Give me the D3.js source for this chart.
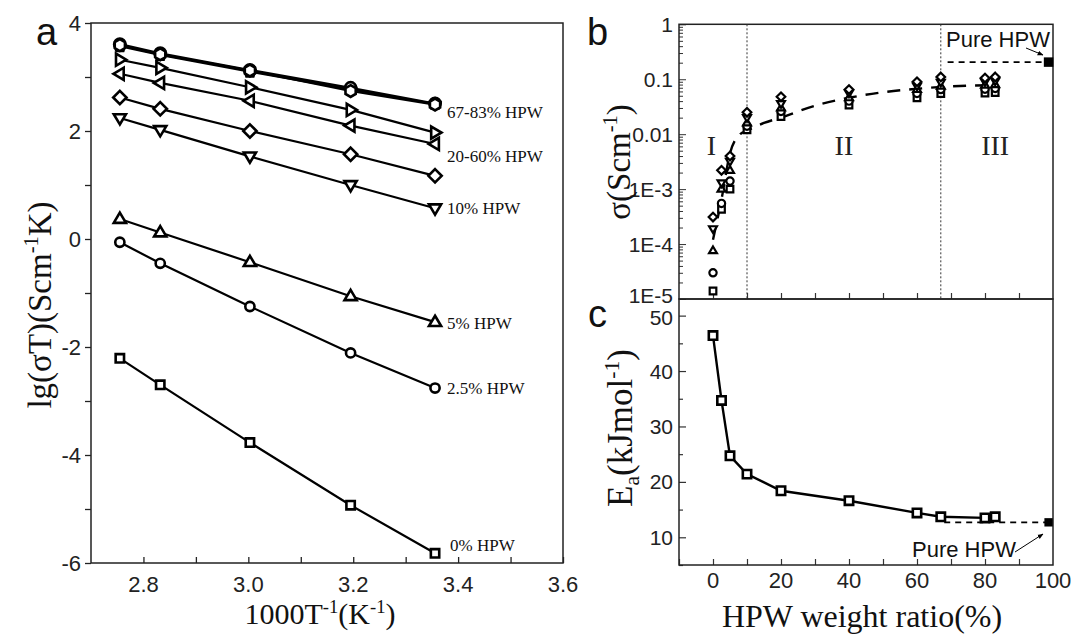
<!DOCTYPE html>
<html><head><meta charset="utf-8">
<script src="https://cdn.jsdelivr.net/npm/d3@7"></script>
<style>body{margin:0;background:#fff}svg{display:block}</style>
</head><body>
<svg id="c" width="1074" height="643"></svg>
<script>
// ---------- DATA ----------
// Panel a: 1000/T values and lg(sigma*T) per sample
const invT = [2.755, 2.832, 3.003, 3.195, 3.356];
const aNames   = ["0%", "2.5%", "5%", "10%", "20%", "40%", "60%", "67%", "80%", "83%"];
const aSymbols = ["square", "circle", "triUp", "triDown", "diamond", "triLeft", "triRight", "pentagon", "circle", "hexagon"];
const lg0   = [-2.21, -2.70, -3.77, -4.93, -5.82];
const lg2_5 = [-0.06, -0.45, -1.25, -2.11, -2.76];
const lg5   = [0.37, 0.12, -0.43, -1.06, -1.54];
const lg10  = [2.24, 2.02, 1.53, 1.00, 0.57];
const lg20  = [2.62, 2.41, 2.00, 1.57, 1.17];
const lg40  = [3.06, 2.89, 2.56, 2.10, 1.76];
const lg60  = [3.32, 3.17, 2.81, 2.39, 1.97];
const lg67  = [3.57, 3.41, 3.10, 2.77, 2.50];
const lg80  = [3.61, 3.44, 3.13, 2.80, 2.51];
const lg83  = [3.59, 3.42, 3.12, 2.74, 2.49];
const aLabels = ["67-83% HPW", "20-60% HPW", "10% HPW", "5% HPW", "2.5% HPW", "0% HPW"];
const aXTicks = [2.8, 3.0, 3.2, 3.4, 3.6];
const aYTicks = [-6, -4, -2, 0, 2, 4];

// Panel b: conductivity vs HPW weight ratio at five temperatures
const hpw = [0, 2.5, 5, 10, 20, 40, 60, 67, 80, 83];
const sig25 = [1.4e-5, 4.3e-4, 1.0e-3, 1.2e-2, 2.1e-2, 3.4e-2, 4.6e-2, 5.5e-2, 5.6e-2, 5.7e-2];
const sig40 = [3.0e-5, 5.5e-4, 1.4e-3, 1.4e-2, 2.6e-2, 4.0e-2, 5.5e-2, 6.5e-2, 6.6e-2, 6.8e-2];
const sig60 = [7.6e-5, 1.0e-3, 2.2e-3, 1.6e-2, 3.0e-2, 4.6e-2, 6.5e-2, 7.5e-2, 7.8e-2, 8.0e-2];
const sig80 = [1.9e-4, 1.3e-3, 3.2e-3, 2.0e-2, 3.6e-2, 5.6e-2, 7.5e-2, 8.8e-2, 9.0e-2, 9.3e-2];
const sig90 = [3.1e-4, 2.2e-3, 4.0e-3, 2.5e-2, 4.8e-2, 6.5e-2, 9.0e-2, 1.1e-1, 1.05e-1, 1.1e-1];
const bSymbols = ["square", "circle", "triUp", "triDown", "diamond"];
const fitX = [0, 2.5, 5, 8, 10, 15, 20, 30, 40, 50, 60, 70, 83];
const fitY = [1.2e-4, 6.5e-4, 4.5e-3, 1.0e-2, 1.15e-2, 1.6e-2, 2.0e-2, 3.3e-2, 4.6e-2, 5.8e-2, 6.7e-2, 7.4e-2, 7.8e-2];
const pureX = 98.7, pureSigma = 0.205, pureEa = 12.7;
const pureLineStart = 69;
const regionBounds = [10, 67];
const regionNames = ["I", "II", "III"];
const regionCenters = [-0.5, 38.5, 83];
const bYTicks = [1, 0.1, 0.01, 1e-3, 1e-4, 1e-5];
const bYTickLabels = ["1", "0.1", "0.01", "1E-3", "1E-4", "1E-5"];

// Panel c: activation energy
const Ea = [46.4, 34.7, 24.7, 21.4, 18.4, 16.6, 14.4, 13.7, 13.5, 13.7];
const cYTicks = [10, 20, 30, 40, 50];
const cXTicks = [0, 20, 40, 60, 80, 100];

// ---------- DRAW ----------
const svg = d3.select("#c");
const SANS = "'Liberation Sans', Arial, sans-serif";
const SERIF = "'Liberation Serif', 'Times New Roman', serif";

function shapePath(type, size) {
  const r = Math.sqrt(size) / 2;
  switch (type) {
    case "square": return d3.symbol(d3.symbolSquare, size)();
    case "circle": return d3.symbol(d3.symbolCircle, size * 0.95)();
    case "diamond": {
      const s = r * 1.3;
      return `M0,${-s}L${s},0L0,${s}L${-s},0Z`;
    }
    case "pentagon": case "hexagon": {
      const n = type === "pentagon" ? 5 : 6, R = r * 1.15;
      const pts = d3.range(n).map(i => {
        const a = -Math.PI / 2 + i * 2 * Math.PI / n;
        return [R * Math.cos(a), R * Math.sin(a)];
      });
      return "M" + pts.map(p => p.join(",")).join("L") + "Z";
    }
    default: {
      const R = r * 1.25;
      const base = [[0, -R], [R * 0.95, R * 0.6], [-R * 0.95, R * 0.6]];
      const ang = {triUp: 0, triDown: 180, triLeft: -90, triRight: 90}[type] * Math.PI / 180;
      const pts = base.map(([x, y]) => [x * Math.cos(ang) - y * Math.sin(ang), x * Math.sin(ang) + y * Math.cos(ang)]);
      return "M" + pts.map(p => p.join(",")).join("L") + "Z";
    }
  }
}

function supText(sel, parts, baseSize) {
  let shift = 0;
  parts.forEach(([t, m]) => {
    const ts = sel.append("tspan").text(t);
    let target = 0;
    if (m === "sup") { ts.attr("font-size", baseSize * 0.62); target = -baseSize * 0.38; }
    else if (m === "sub") { ts.attr("font-size", baseSize * 0.62); target = baseSize * 0.2; }
    ts.attr("dy", target - shift);
    shift = target;
  });
}

// ===== Panel a =====
const A = {l: 91, r: 563, t: 23, b: 563};
const xA = d3.scaleLinear().domain([2.7, 3.6]).range([A.l, A.r]);
const yA = d3.scaleLinear().domain([-6, 4]).range([A.b, A.t]);
const gA = svg.append("g");

const bA = gA.append("g").attr("transform", `translate(0,${A.b})`)
  .call(d3.axisBottom(xA).tickValues(d3.range(2.8, 3.61, 0.1)).tickSize(-6).tickFormat(""));
bA.select(".domain").remove();
bA.selectAll("line").attr("stroke", "#222").attr("stroke-width", 1.3);
gA.selectAll(".xtA").data(aXTicks).enter().append("text")
  .attr("x", d => xA(d)).attr("y", 592).attr("text-anchor", "middle")
  .attr("font-family", SANS).attr("font-size", 22).attr("fill", "#222").text(d => d.toFixed(1));

const lA = gA.append("g").attr("transform", `translate(${A.l},0)`)
  .call(d3.axisLeft(yA).tickValues(d3.range(-6, 4.01, 1)).tickSize(6).tickFormat(""));
lA.select(".domain").remove();
lA.selectAll("line").attr("stroke", "#222").attr("stroke-width", 1.3);
gA.selectAll(".ytA").data(aYTicks).enter().append("text")
  .attr("x", 81).attr("y", d => yA(d)).attr("dy", "0.36em").attr("text-anchor", "end")
  .attr("font-family", SANS).attr("font-size", 22).attr("fill", "#222").text(d => d);

gA.append("rect").attr("x", A.l).attr("y", A.t).attr("width", A.r - A.l).attr("height", A.b - A.t)
  .attr("fill", "none").attr("stroke", "#222").attr("stroke-width", 1.5);

const aSeries = [lg0, lg2_5, lg5, lg10, lg20, lg40, lg60, lg67, lg80, lg83];
const lineA = d3.line().x((d, i) => xA(invT[i])).y(d => yA(d));
aSeries.forEach((s) => {
  gA.append("path").attr("d", lineA(s)).attr("fill", "none").attr("stroke", "#000").attr("stroke-width", 2.2);
});
aSeries.forEach((s, k) => {
  const sym = aSymbols[k];
  const size = (k === 0 || k === 1) ? 70 : 105;
  gA.selectAll(null).data(s).enter().append("path")
    .attr("transform", (d, i) => `translate(${xA(invT[i])},${yA(d)})`)
    .attr("d", shapePath(sym, size)).attr("fill", "#fff").attr("stroke", "#000")
    .attr("stroke-width", 2.6);
});
const labelY = [2.36, 1.53, 0.57, -1.55, -2.76, -5.66];
gA.selectAll(".lab").data(aLabels).enter().append("text")
  .attr("x", (d, i) => i === 5 ? 450 : 447).attr("y", (d, i) => yA(labelY[i])).attr("dy", "0.35em")
  .attr("font-family", SERIF).attr("font-size", 17).attr("fill", "#111").text(d => d);

const tA = gA.append("text").attr("x", 320).attr("y", 624).attr("text-anchor", "middle")
  .attr("font-family", SERIF).attr("font-size", 30).attr("fill", "#111");
supText(tA, [["1000T", "n"], ["-1", "sup"], ["(K", "n"], ["-1", "sup"], [")", "n"]], 30);
const tAy = gA.append("text").attr("transform", "translate(51,305) rotate(-90)").attr("text-anchor", "middle")
  .attr("font-family", SERIF).attr("font-size", 33).attr("fill", "#111");
supText(tAy, [["lg(σT)(Scm", "n"], ["-1", "sup"], ["K)", "n"]], 33);
svg.append("text").attr("x", 36).attr("y", 45).attr("font-family", SANS).attr("font-size", 38).attr("fill", "#111").text("a");

// ===== Panel b =====
const B = {l: 679, r: 1053, t: 24.3, b: 299};
const xB = d3.scaleLinear().domain([-10, 100]).range([B.l, B.r]);
const yB = d3.scaleLog().domain([1e-5, 1]).range([B.b, B.t]);
const gB = svg.append("g");

const logTicks = [];
for (let e = -5; e < 0; e++) for (let m = 1; m < 10; m++) logTicks.push(m * Math.pow(10, e));
logTicks.push(1);
const lB = gB.append("g").attr("transform", `translate(${B.l},0)`)
  .call(d3.axisLeft(yB).tickValues(logTicks).tickSize(-4).tickFormat(""));
lB.select(".domain").remove();
lB.selectAll("line").attr("stroke", "#333").attr("stroke-width", 1)
  .attr("x2", d => Math.abs(Math.log10(d) - Math.round(Math.log10(d))) < 1e-6 ? 7 : 4);
gB.selectAll(".ytB").data(bYTicks).enter().append("text")
  .attr("x", 673).attr("y", d => yB(d)).attr("dy", (d, i) => i === 5 ? "0.2em" : "0.36em").attr("text-anchor", "end")
  .attr("font-family", SANS).attr("font-size", 21).attr("fill", "#222").text((d, i) => bYTickLabels[i]);
const bBax = gB.append("g").attr("transform", `translate(0,${B.b})`)
  .call(d3.axisBottom(xB).tickValues(d3.range(0, 100, 10)).tickSize(-6).tickFormat(""));
bBax.select(".domain").remove();
bBax.selectAll("line").attr("stroke", "#333").attr("stroke-width", 1.2);

gB.append("rect").attr("x", B.l).attr("y", B.t).attr("width", B.r - B.l).attr("height", B.b - B.t)
  .attr("fill", "none").attr("stroke", "#222").attr("stroke-width", 1.5);

gB.selectAll(".rb").data(regionBounds).enter().append("line")
  .attr("x1", d => xB(d)).attr("x2", d => xB(d)).attr("y1", B.t).attr("y2", B.b)
  .attr("stroke", "#333").attr("stroke-width", 1).attr("stroke-dasharray", "2,2");
gB.selectAll(".rn").data(regionNames).enter().append("text")
  .attr("x", (d, i) => xB(regionCenters[i])).attr("y", 155).attr("text-anchor", "middle")
  .attr("font-family", SERIF).attr("font-size", 28).attr("fill", "#222").text(d => d);

const fitLine = d3.line().x((d, i) => xB(fitX[i])).y(d => yB(d)).curve(d3.curveMonotoneX);
gB.append("path").attr("d", fitLine(fitY)).attr("fill", "none").attr("stroke", "#000")
  .attr("stroke-width", 2.4).attr("stroke-dasharray", "13,9");

const bSeries = [sig25, sig40, sig60, sig80, sig90];
bSeries.forEach((s, k) => {
  gB.selectAll(null).data(s).enter().append("path")
    .attr("transform", (d, i) => `translate(${xB(hpw[i])},${yB(d)})`)
    .attr("d", shapePath(bSymbols[k], 44)).attr("fill", "#fff").attr("stroke", "#000").attr("stroke-width", 2.2);
});

gB.append("line").attr("x1", xB(pureLineStart)).attr("x2", xB(pureX)).attr("y1", yB(pureSigma)).attr("y2", yB(pureSigma))
  .attr("stroke", "#000").attr("stroke-width", 1.6).attr("stroke-dasharray", "6,5");
gB.append("path").attr("transform", `translate(${xB(pureX)},${yB(pureSigma)})`)
  .attr("d", shapePath("square", 90)).attr("fill", "#000");
gB.append("text").attr("x", 946).attr("y", 47).attr("font-family", SANS).attr("font-size", 22).attr("fill", "#111").text("Pure HPW");

const defs = svg.append("defs");
defs.append("marker").attr("id", "arr").attr("viewBox", "0 0 10 10").attr("refX", 9).attr("refY", 5)
  .attr("markerWidth", 6).attr("markerHeight", 6).attr("orient", "auto")
  .append("path").attr("d", "M0,1L10,5L0,9Z").attr("fill", "#000");
gB.append("line").attr("x1", 1026).attr("y1", 48).attr("x2", 1043).attr("y2", 55)
  .attr("stroke", "#000").attr("stroke-width", 1).attr("marker-end", "url(#arr)");

const tBy = gB.append("text").attr("transform", "translate(630,162) rotate(-90)").attr("text-anchor", "middle")
  .attr("font-family", SERIF).attr("font-size", 33).attr("fill", "#111");
supText(tBy, [["σ(Scm", "n"], ["-1", "sup"], [")", "n"]], 33);
svg.append("text").attr("x", 587).attr("y", 45).attr("font-family", SANS).attr("font-size", 38).attr("fill", "#111").text("b");

// ===== Panel c =====
const C = {l: 679, r: 1053, t: 299, b: 565};
const xC = d3.scaleLinear().domain([-10, 100]).range([C.l, C.r]);
const yC = d3.scaleLinear().domain([5, 53]).range([C.b, C.t]);
const gC = svg.append("g");

const lC = gC.append("g").attr("transform", `translate(${C.l},0)`)
  .call(d3.axisLeft(yC).tickValues(d3.range(5, 51, 5)).tickSize(-4).tickFormat(""));
lC.select(".domain").remove();
lC.selectAll("line").attr("stroke", "#333").attr("stroke-width", 1.2).attr("x2", d => d % 10 === 0 ? 7 : 4);
gC.selectAll(".ytC").data(cYTicks).enter().append("text")
  .attr("x", 673).attr("y", d => yC(d)).attr("dy", (d, i) => i === 4 ? "0.45em" : "0.36em").attr("text-anchor", "end")
  .attr("font-family", SANS).attr("font-size", 21).attr("fill", "#222").text(d => d);
const bC = gC.append("g").attr("transform", `translate(0,${C.b})`)
  .call(d3.axisBottom(xC).tickValues(d3.range(-10, 100, 10)).tickSize(-6).tickFormat(""));
bC.select(".domain").remove();
bC.selectAll("line").attr("stroke", "#333").attr("stroke-width", 1.2);
gC.selectAll(".xtC").data(cXTicks).enter().append("text")
  .attr("x", d => xC(d)).attr("y", 588).attr("text-anchor", "middle")
  .attr("font-family", SANS).attr("font-size", 22).attr("fill", "#222").text(d => d);

gC.append("rect").attr("x", C.l).attr("y", C.t).attr("width", C.r - C.l).attr("height", C.b - C.t)
  .attr("fill", "none").attr("stroke", "#222").attr("stroke-width", 1.5);

gC.append("line").attr("x1", xC(pureLineStart - 1)).attr("x2", xC(pureX)).attr("y1", yC(pureEa)).attr("y2", yC(pureEa))
  .attr("stroke", "#000").attr("stroke-width", 1.6).attr("stroke-dasharray", "6,5");
const lineC = d3.line().x((d, i) => xC(hpw[i])).y(d => yC(d));
gC.append("path").attr("d", lineC(Ea)).attr("fill", "none").attr("stroke", "#000").attr("stroke-width", 2.4);
gC.selectAll(null).data(Ea).enter().append("path")
  .attr("transform", (d, i) => `translate(${xC(hpw[i])},${yC(d)})`)
  .attr("d", shapePath("square", 70)).attr("fill", "#fff").attr("stroke", "#000").attr("stroke-width", 2.6);
gC.append("path").attr("transform", `translate(${xC(pureX)},${yC(pureEa)})`)
  .attr("d", shapePath("square", 70)).attr("fill", "#000");
gC.append("text").attr("x", 912).attr("y", 557).attr("font-family", SANS).attr("font-size", 22).attr("fill", "#111").text("Pure HPW");
gC.append("line").attr("x1", 1015).attr("y1", 552).attr("x2", 1043).attr("y2", 534)
  .attr("stroke", "#000").attr("stroke-width", 1).attr("marker-end", "url(#arr)");

gC.append("text").attr("x", 862).attr("y", 627).attr("text-anchor", "middle")
  .attr("font-family", SERIF).attr("font-size", 32).attr("fill", "#111").text("HPW weight ratio(%)");
const tCy = gC.append("text").attr("transform", "translate(632,428) rotate(-90)").attr("text-anchor", "middle")
  .attr("font-family", SERIF).attr("font-size", 35).attr("fill", "#111");
supText(tCy, [["E", "n"], ["a", "sub"], ["(kJmol", "n"], ["-1", "sup"], [")", "n"]], 35);
svg.append("text").attr("x", 588).attr("y", 327).attr("font-family", SANS).attr("font-size", 38).attr("fill", "#111").text("c");
</script>
</body></html>
